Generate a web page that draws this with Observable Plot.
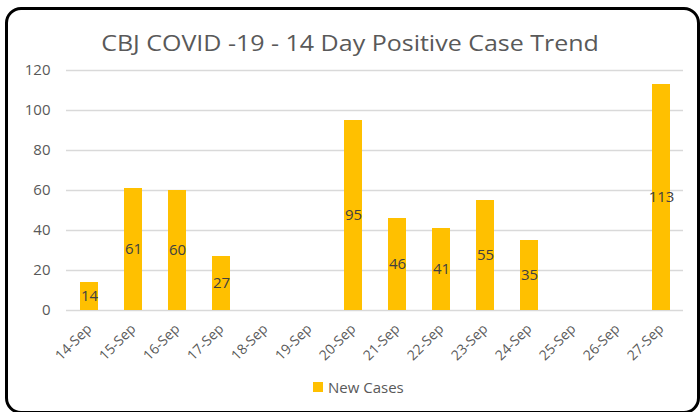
<!DOCTYPE html>
<html>
<head>
<meta charset="utf-8">
<script src="https://cdn.jsdelivr.net/npm/d3@7"></script>
<script src="https://cdn.jsdelivr.net/npm/@observablehq/plot@0.6"></script>
<style>
  html, body { margin: 0; padding: 0; background: #fff; }
  body { width: 700px; height: 412px; position: relative; overflow: hidden; font-family: "Open Sans", sans-serif; }
  #frame { position: absolute; left: 5px; top: 7px; width: 689px; height: 401px; border: 3px solid #000; border-radius: 16px; box-sizing: content-box; }
  #title { position: absolute; left: 0; width: 700px; top: 29px; text-align: center; font-size: 21px; color: #595959; white-space: nowrap; transform: scaleX(1.19); transform-origin: 350px 0; }
  #chart { position: absolute; left: 0; top: 0; }
  #legend { position: absolute; top: 377px; left: 313px; font-size: 15px; color: #595959; display: flex; align-items: center; }
  #legend .sw { width: 10px; height: 10px; background: #FFC000; margin-right: 5px; }
</style>
</head>
<body>
<div id="frame"></div>
<div id="title">CBJ COVID -19 - 14 Day Positive Case Trend</div>
<div id="chart"></div>
<div id="legend"><span class="sw"></span><span>New Cases</span></div>
<script>
const dates = ["14-Sep","15-Sep","16-Sep","17-Sep","18-Sep","19-Sep","20-Sep","21-Sep","22-Sep","23-Sep","24-Sep","25-Sep","26-Sep","27-Sep"];
const newCases = [14, 61, 60, 27, 0, 0, 95, 46, 41, 55, 35, 0, 0, 113];
const yTicks = [0, 20, 40, 60, 80, 100, 120];
const seriesName = "New Cases";

const data = dates.map((d, i) => ({date: d, value: newCases[i]}));
const nonZero = data.filter(d => d.value > 0);

const chart = Plot.plot({
  width: 700,
  height: 412,
  marginTop: 70,
  marginBottom: 102,
  marginLeft: 66,
  marginRight: 17,
  style: {fontFamily: "'Open Sans', sans-serif", background: "transparent", overflow: "visible"},
  x: {domain: dates, paddingInner: 0.6, paddingOuter: 0.3, label: null},
  y: {domain: [0, 120], label: null},
  marks: [
    Plot.ruleY(yTicks, {stroke: "#d9d9d9", strokeWidth: 1.3}),
    Plot.barY(nonZero, {x: "date", y: "value", fill: "#FFC000"}),
    Plot.text(nonZero, {x: "date", y: d => d.value / 2, text: d => String(d.value), fill: "#404040", fontSize: 15}),
    Plot.axisY({ticks: yTicks, tickSize: 0, tickPadding: 16, fontSize: 15, color: "#595959", label: null}),
    Plot.axisX({tickSize: 0, tickPadding: 16, tickRotate: -45, fontSize: 14, color: "#595959", label: null})
  ]
});
document.getElementById("chart").appendChild(chart);
</script>
</body>
</html>
